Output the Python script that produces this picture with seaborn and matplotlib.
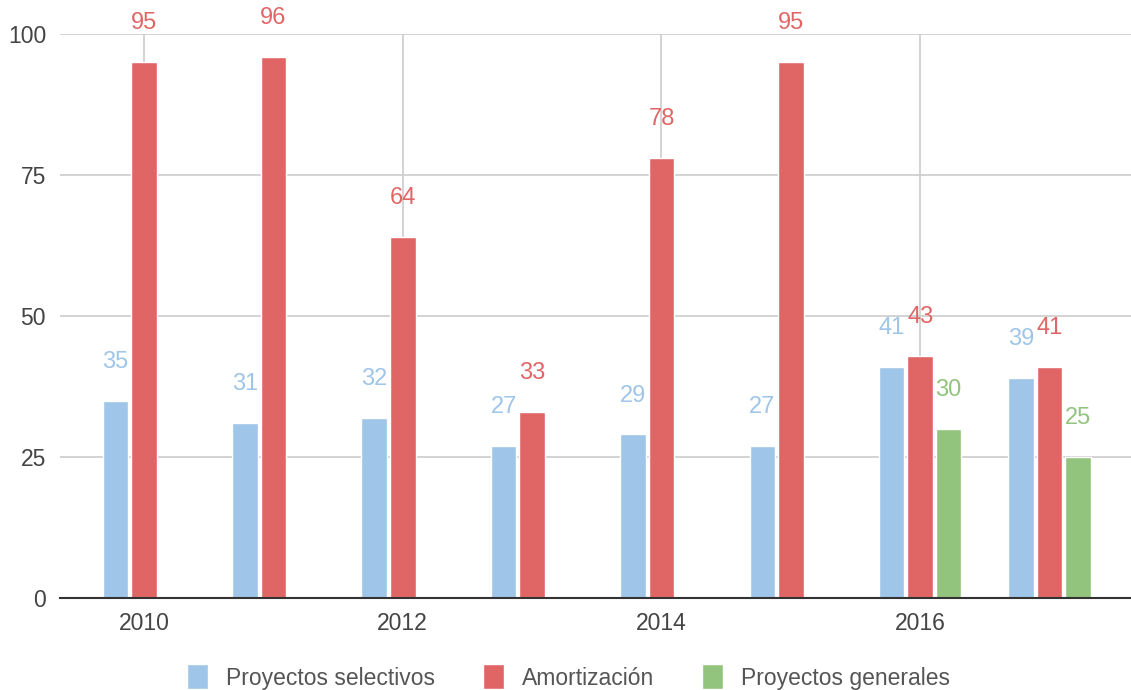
import numpy as np
import pandas as pd
import matplotlib.pyplot as plt
import seaborn as sns

# datos
years = ["2010", "2011", "2012", "2013", "2014", "2015", "2016", "2017"]
selectivos = [35, 31, 32, 27, 29, 27, 41, 39]
amortizacion = [95, 96, 64, 33, 78, 95, 43, 41]
generales = [np.nan, np.nan, np.nan, np.nan, np.nan, np.nan, 30, 25]

series = ["Proyectos selectivos", "Amortización", "Proyectos generales"]
colors = ["#9FC5E8", "#E06666", "#93C47D"]

df = pd.DataFrame({
    "year": years * 3,
    "serie": [series[0]] * 8 + [series[1]] * 8 + [series[2]] * 8,
    "valor": selectivos + amortizacion + generales,
})

sns.set_style("white")
plt.rcParams["font.family"] = ["Liberation Sans", "DejaVu Sans"]

fig = plt.figure(figsize=(11.31, 6.9), dpi=100)
ax = fig.add_axes([0.053, 0.1333, 0.947, 0.8174])

sns.barplot(data=df, x="year", y="valor", hue="serie", hue_order=series,
            palette=colors, width=0.66, gap=0.1, saturation=1, ax=ax,
            legend=True, zorder=3)

# etiquetas sobre cada barra
for cont, col in zip(ax.containers, colors):
    for bar in cont:
        h = bar.get_height()
        if np.isnan(h):
            continue
        ax.annotate(f"{h:.0f}", (bar.get_x() + bar.get_width() / 2, h),
                    xytext=(0, 28), textcoords="offset points",
                    ha="center", va="center", color=col, fontsize=17,
                    annotation_clip=False, zorder=4)

ax.set_ylim(0, 100)
ax.set_xlim(-0.65, 7.63)
ax.set_yticks([0, 25, 50, 75, 100])
ax.set_xticks([0, 2, 4, 6])
ax.set_xticklabels(["2010", "2012", "2014", "2016"])
ax.grid(True, color="#cccccc", linewidth=1.2, zorder=0)
ax.set_axisbelow(True)
ax.tick_params(axis="both", length=0, labelsize=16.5, labelcolor="#444444", pad=10)
ax.set_xlabel("")
ax.set_ylabel("")
for s in ["top", "right", "left"]:
    ax.spines[s].set_visible(False)
ax.spines["bottom"].set_color("#333333")
ax.spines["bottom"].set_linewidth(1.5)
ax.spines["bottom"].set_zorder(5)

ax.legend(loc="center", bbox_to_anchor=(0.475, -0.14), ncol=3,
          frameon=False, fontsize=16.5, labelcolor="#555555",
          handlelength=0.9, handleheight=1.3, handletextpad=0.8,
          columnspacing=2.1)

fig.savefig("out.png", dpi=100)
